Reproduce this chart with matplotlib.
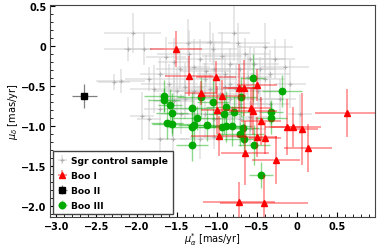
import matplotlib
matplotlib.use("Agg")
import matplotlib.pyplot as plt
from matplotlib.ticker import AutoMinorLocator

# ---- Sgr control sample ----
sgr_x = [-2.05, -2.11, -1.91, -2.20, -2.28, -1.93, -1.36, -1.05, -0.74, -0.40,
         -0.78, -1.09, -0.65, -0.59, -0.94, -1.21, -1.28, -0.84, -0.46, -0.34,
         -1.46, -1.53, -1.71, -1.84, -1.59, -1.40, -1.15, -1.03, -0.90, -0.71,
         -0.53, -0.28, -0.09, -0.15, -1.21, -1.40, -1.49, -1.09, -0.84, -0.61,
         -0.40, -0.21, -1.28, -1.15, -1.03, -0.84, -1.71, -1.84, -1.78, -0.71,
         -0.46, -0.34, -0.59, -1.44, -1.54, -1.71, -1.21, -1.03, -0.59, 0.04,
         -0.71, -0.96, -1.14, -1.34, -1.63, -0.76, -0.49, -1.28, -1.53, -0.90]
sgr_y = [0.16, -0.04, -0.04, -0.44, -0.45, -0.88, 0.03, -0.04, 0.04, -0.01,
         0.16, 0.05, -0.10, -0.16, -0.13, -0.16, -0.26, -0.23, -0.29, -0.35,
         -0.29, -0.20, -0.35, -0.41, -0.48, -0.51, -0.41, -0.29, -0.35, -0.29,
         -0.23, -0.16, -0.48, -0.26, -0.66, -0.66, -0.56, -0.54, -0.48, -0.39,
         -0.41, -0.66, -0.79, -0.85, -0.91, -0.66, -0.79, -0.91, -0.54, -0.73,
         -0.66, -0.73, -0.89, -0.85, -1.16, -1.16, -1.16, -1.14, -1.04, -0.85,
         -0.91, -0.60, -0.31, -0.10, -0.14, -0.54, -0.56, -0.56, -0.69, -0.51]
sgr_xerr = [0.35, 0.30, 0.25, 0.30, 0.20, 0.15, 0.25, 0.30, 0.40, 0.35,
            0.20, 0.25, 0.30, 0.45, 0.25, 0.30, 0.20, 0.35, 0.30, 0.25,
            0.30, 0.20, 0.25, 0.30, 0.35, 0.25, 0.40, 0.30, 0.35, 0.45,
            0.30, 0.25, 0.20, 0.30, 0.35, 0.25, 0.30, 0.40, 0.35, 0.30,
            0.25, 0.20, 0.30, 0.35, 0.25, 0.30, 0.20, 0.15, 0.30, 0.35,
            0.30, 0.25, 0.30, 0.25, 0.20, 0.15, 0.25, 0.30, 0.20, 0.15,
            0.30, 0.35, 0.30, 0.40, 0.25, 0.30, 0.35, 0.30, 0.25, 0.40]
sgr_yerr = [0.25, 0.15, 0.20, 0.15, 0.10, 0.30, 0.30, 0.20, 0.25, 0.30,
            0.35, 0.25, 0.20, 0.15, 0.30, 0.25, 0.35, 0.20, 0.15, 0.30,
            0.25, 0.30, 0.20, 0.15, 0.25, 0.30, 0.20, 0.35, 0.25, 0.30,
            0.20, 0.25, 0.30, 0.35, 0.20, 0.25, 0.30, 0.20, 0.25, 0.30,
            0.35, 0.25, 0.20, 0.30, 0.25, 0.30, 0.20, 0.25, 0.30, 0.20,
            0.25, 0.30, 0.20, 0.25, 0.30, 0.20, 0.25, 0.15, 0.20, 0.25,
            0.30, 0.25, 0.20, 0.30, 0.25, 0.30, 0.20, 0.25, 0.30, 0.20]

# ---- Boo I ----
boo1_x = [-1.51, -1.35, -1.01, -1.20, -0.94, -0.725, -0.66, -0.50, -1.00, -0.575,
          -0.55, -0.45, -0.125, -0.05, 0.0625, -0.975, -0.50, -0.40, -0.65, -0.26,
          0.14, 0.625, -0.725, -0.41]
boo1_y = [-0.04, -0.375, -0.39, -0.59, -0.625, -0.525, -0.525, -0.49, -0.80, -0.775,
          -0.81, -0.94, -1.01, -1.01, -1.04, -1.125, -1.14, -1.15, -1.34, -1.425,
          -1.275, -0.84, -1.95, -1.96]
boo1_xerr = [0.32, 0.30, 0.25, 0.20, 0.30, 0.20, 0.20, 0.25, 0.20, 0.25,
             0.30, 0.25, 0.20, 0.35, 0.20, 0.35, 0.25, 0.20, 0.30, 0.30,
             0.30, 0.40, 0.45, 0.55]
boo1_yerr = [0.23, 0.25, 0.20, 0.15, 0.20, 0.30, 0.35, 0.20, 0.30, 0.25,
             0.30, 0.30, 0.35, 0.25, 0.45, 0.25, 0.25, 0.20, 0.40, 0.30,
             0.30, 0.30, 0.25, 0.35]

# ---- Boo II ----
boo2_x = [-2.65]
boo2_y = [-0.625]
boo2_xerr = [0.16]
boo2_yerr = [0.15]

# ---- Boo III ----
boo3_x = [-1.6625, -1.6625, -1.5875, -1.5625, -1.3125, -1.20, -1.05, -0.8875, -0.9125, -1.25,
          -1.625, -1.5625, -1.3125, -1.2875, -1.125, -0.9375, -0.8875, -0.55, -0.1875, -0.70,
          -0.7875, -0.325, -0.325, -0.8125, -0.675, -0.7125, -0.6625, -0.5375, -1.3125, -0.45]
boo3_y = [-0.625, -0.675, -0.7375, -0.8375, -0.775, -0.6375, -0.70, -0.7625, -0.85, -0.90,
          -0.9625, -0.975, -1.0125, -0.9875, -0.9875, -1.0125, -1.00, -0.40, -0.5625, -0.6375,
          -0.825, -0.825, -0.90, -1.00, -1.025, -1.10, -1.1625, -1.2375, -1.2375, -1.6125]
boo3_xerr = [0.25, 0.20, 0.15, 0.20, 0.25, 0.30, 0.20, 0.25, 0.20, 0.30,
             0.20, 0.25, 0.30, 0.20, 0.25, 0.30, 0.20, 0.15, 0.25, 0.20,
             0.25, 0.15, 0.20, 0.25, 0.20, 0.30, 0.25, 0.20, 0.20, 0.15]
boo3_yerr = [0.20, 0.15, 0.20, 0.25, 0.20, 0.25, 0.30, 0.20, 0.25, 0.15,
             0.20, 0.15, 0.20, 0.25, 0.20, 0.15, 0.20, 0.30, 0.20, 0.25,
             0.20, 0.15, 0.20, 0.25, 0.20, 0.15, 0.20, 0.25, 0.20, 0.16]

fig = plt.figure(figsize=(3.9, 2.51), dpi=100)
ax = fig.add_axes([0.128, 0.131, 0.834, 0.845])

ax.errorbar(sgr_x, sgr_y, xerr=sgr_xerr, yerr=sgr_yerr, fmt='+', color='#b0b0b0',
            ms=3, mew=0.8, ecolor=(0.8, 0.8, 0.8, 0.55), elinewidth=1.2,
            label='Sgr control sample', zorder=1)
ax.errorbar(boo1_x, boo1_y, xerr=boo1_xerr, yerr=boo1_yerr, fmt='^', color='red',
            ms=4.2, ecolor=(1, 0, 0, 0.45), elinewidth=1.2, label='Boo I', zorder=3)
ax.errorbar(boo2_x, boo2_y, xerr=boo2_xerr, yerr=boo2_yerr, fmt='s', color='black',
            ms=4.3, ecolor=(0, 0, 0, 0.5), elinewidth=0.9, label='Boo II', zorder=3)
ax.errorbar(boo3_x, boo3_y, xerr=boo3_xerr, yerr=boo3_yerr, fmt='o', color='#00aa00',
            ms=4.6, ecolor=(0, 0.67, 0, 0.45), elinewidth=1.0, label='Boo III', zorder=2)

ax.set_xlim(-3.08, 0.975)
ax.set_ylim(-2.14, 0.51)
ax.set_xticks([-3.0, -2.5, -2.0, -1.5, -1.0, -0.5, 0, 0.5])
ax.set_xticklabels(['\u22123.0', '\u22122.5', '\u22122.0', '\u22121.5', '\u22121.0', '\u22120.5', '0', '0.5'])
ax.set_yticks([0.5, 0, -0.5, -1.0, -1.5, -2.0])
ax.set_yticklabels(['0.5', '0', '\u22120.5', '\u22121.0', '\u22121.5', '\u22122.0'])
ax.xaxis.set_minor_locator(AutoMinorLocator(5))
ax.yaxis.set_minor_locator(AutoMinorLocator(5))
ax.tick_params(which='both', direction='in', labelsize=7, top=False, right=False)
ax.tick_params(which='major', length=3.5, width=0.8, pad=2.5)
ax.tick_params(which='minor', length=2, width=0.6)
for t in ax.get_xticklabels() + ax.get_yticklabels():
    t.set_fontweight('bold')
for s in ax.spines.values():
    s.set_color('#444444')

ax.set_xlabel(r'$\mu_{\alpha}^{*}$ [mas/yr]', fontsize=7, labelpad=0)
ax.set_ylabel(r'$\mu_{\delta}$ [mas/yr]', fontsize=7, labelpad=1)

leg = ax.legend(loc='lower left', fontsize=6.6, fancybox=False, framealpha=1,
                edgecolor='#444444', handletextpad=0.4, borderpad=0.5,
                labelspacing=0.65, handlelength=1.1, borderaxespad=0.3)
for t in leg.get_texts():
    t.set_fontweight('bold')

fig.savefig('out.png', dpi=100)
